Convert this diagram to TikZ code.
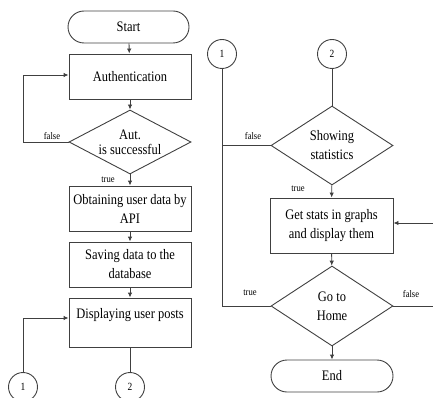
\documentclass[tikz,border=0pt]{standalone}
\usepackage{fontspec}
\setmainfont{Liberation Serif}[FakeStretch=0.86]
\usetikzlibrary{shapes.geometric,arrows.meta}
\definecolor{ln}{HTML}{404040}
\tikzset{
  every node/.style={font=\fontsize{14.5}{19}\selectfont, text=black},
  box/.style={draw=ln, line width=0.9pt, minimum width=122, align=center, inner sep=0},
  term/.style={draw=ln, line width=0.9pt, minimum width=121, minimum height=32, rounded corners=16, inner sep=0},
  dec/.style={draw=ln, line width=0.9pt, diamond, inner sep=0, align=center},
  conn/.style={draw=ln, line width=0.9pt, circle, minimum size=29, inner sep=0, font=\fontsize{11}{13}\selectfont},
  flow/.style={draw=ln, line width=0.9pt, -{Latex[length=5pt,width=4.5pt]}},
  line/.style={draw=ln, line width=0.9pt},
  lab/.style={font=\fontsize{10}{12}\selectfont, inner sep=0}
}
\begin{document}
\begin{tikzpicture}[x=1pt,y=-1pt]
\useasboundingbox (0,0) rectangle (433,398);
\clip (0,0) rectangle (433,398);
% left column
\node[term] (start) at (128.5,27) {Start};
\node[box, minimum height=45] (auth) at (130,76.5) {Authentication};
\node[dec, minimum width=122, minimum height=64, aspect=1.9, font=\fontsize{14.5}{15}\selectfont] (aut) at (130,142) {Aut.\\is successful};
\node[box, minimum height=45] (obt) at (130,208.5) {Obtaining user data by\\API};
\node[box, minimum height=45] (save) at (130,264.5) {Saving data to the\\database};
\node[box, minimum height=49] (disp) at (130,322.5) {Displaying user posts\\~};
\node[conn] (la) at (23,387) {1};
\node[conn] (lb) at (130,387) {2};
\coordinate (lp) at (23,142);
\draw[flow] (start) -- (auth);
\draw[flow] (auth) -- (aut);
\draw[flow] (aut) -- (obt);
\draw[flow] (obt) -- (save);
\draw[flow] (save) -- (disp);
\draw[flow] (aut.west) -- (lp) |- ([yshift=1.5]auth.west);
\draw[flow] (la) |- ([yshift=4.5]disp.west);
\draw[line] (disp) -- (lb);
\node[lab] at (52,136) {false};
\node[lab] at (108,180) {true};
% right column
\node[conn] (ra) at (222,54) {1};
\node[conn] (rb) at (332,54) {2};
\node[dec, minimum width=122, minimum height=79, aspect=1.54] (show) at (332,145.5) {Showing\\statistics};
\node[box, minimum height=55, minimum width=123] (stats) at (331.5,225.5) {Get stats in graphs\\and display them};
\node[dec, minimum width=122, minimum height=80, aspect=1.52] (home) at (332,306) {Go to\\Home};
\node[term, minimum width=122] (end) at (332,376) {End};
\coordinate (rj) at (222,145.5);
\coordinate (rr) at (440,306);
\coordinate (rs) at (440,223);
\draw[line] (rb) -- (show);
\draw[line] (show.west) -- (rj);
\draw[line] (ra) |- (home.west);
\draw[flow] (show) -- (stats);
\draw[flow] (stats) -- (home);
\draw[flow] (home) -- (end);
\draw[flow] (home.east) -- (rr) -- (rs) -- (rs -| stats.east);
\node[lab] at (253,136) {false};
\node[lab] at (298,189) {true};
\node[lab] at (250,293) {true};
\node[lab] at (411,294) {false};
\end{tikzpicture}
\end{document}
